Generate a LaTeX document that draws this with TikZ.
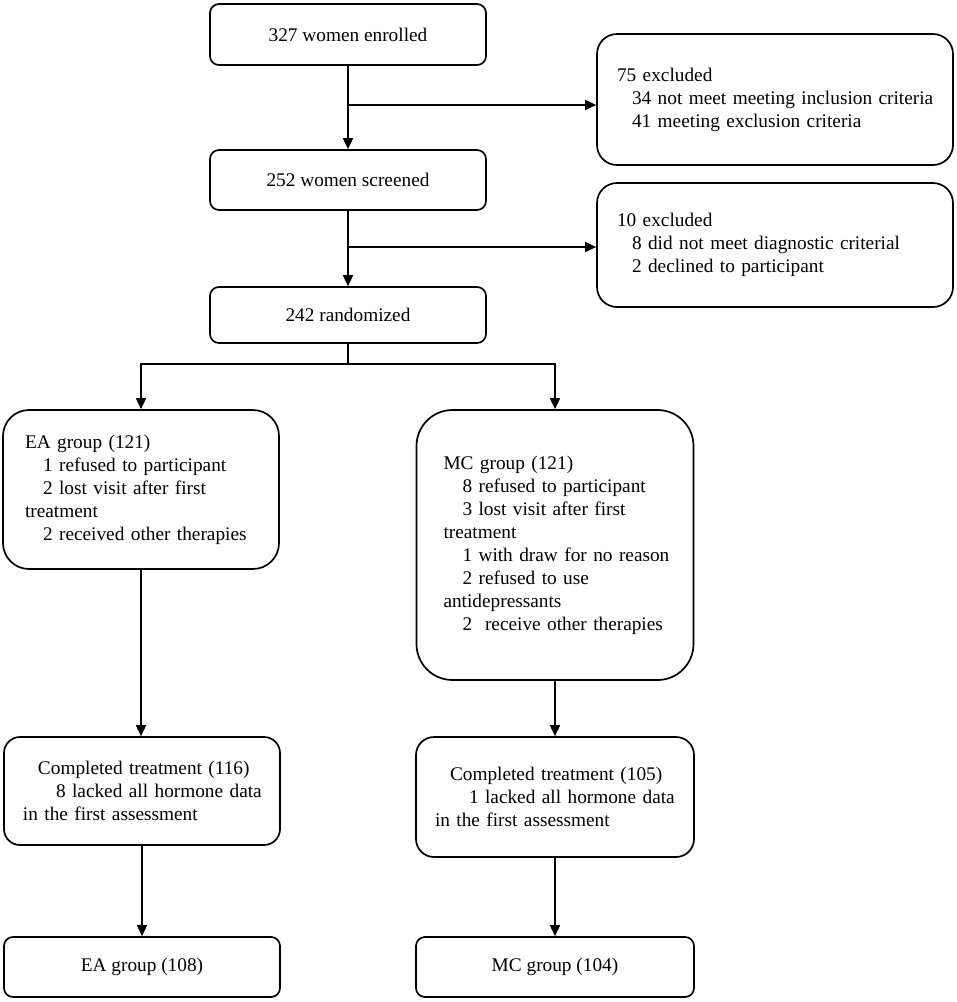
\documentclass[tikz,border=0pt]{standalone}
\usepackage{fontspec}
\setmainfont{Liberation Serif}
\usetikzlibrary{arrows.meta}
\begin{document}
\begin{tikzpicture}[x=1pt,y=-1pt,
  box/.style={draw, line width=1.7pt, inner sep=0pt, fill=white,
    font=\fontsize{19.3}{23}\selectfont},
  lbox/.style={box, align=left},
  arr/.style={line width=1.7pt, -{Triangle[length=11pt,width=10pt]}},
  ln/.style={line width=1.7pt}]
\useasboundingbox[fill=white] (0,0) rectangle (957,1002);
\newcommand{\myline}[2][0]{\mbox{\hspace*{#1pt}#2}}

\node[box, minimum width=276pt, minimum height=61pt, rounded corners=9pt] (enr) at (348,34.5) {327 women enrolled};
\node[box, minimum width=276pt, minimum height=60pt, rounded corners=9pt] (scr) at (348,180) {252 women screened};
\node[box, minimum width=276pt, minimum height=56pt, rounded corners=9pt] (rnd) at (348,315) {242 randomized};

\node[lbox, text width=316pt, inner xsep=20pt, minimum height=131pt, rounded corners=20pt] (ex1) at (775,99.5)
  {\myline{75 excluded}\\ \myline[15]{34 not meet meeting inclusion criteria}\\ \myline[15]{41 meeting exclusion criteria}};
\node[lbox, text width=316pt, inner xsep=20pt, minimum height=124pt, rounded corners=20pt] (ex2) at (775,245)
  {\myline{10 excluded}\\ \myline[15]{8 did not meet diagnostic criterial}\\ \myline[15]{2 declined to participant}};

\node[lbox, text width=232pt, inner xsep=22pt, minimum height=159pt, rounded corners=26pt] (ea) at (141,489.5)
  {\myline{EA group (121)}\\ \myline[18]{1 refused to participant}\\ \myline[18]{2 lost visit after first}\\ \myline{treatment}\\ \myline[18]{2 received other therapies}};
\node[lbox, text width=223pt, inner xsep=27pt, minimum height=270pt, rounded corners=36pt] (mc) at (555,545)
  {\myline{MC group (121)}\\ \myline[19]{8 refused to participant}\\ \myline[19]{3 lost visit after first}\\ \myline{treatment}\\ \myline[19]{1 with draw for no reason}\\ \myline[19]{2 refused to use}\\ \myline{antidepressants}\\ \myline[19]{2\ \ receive other therapies}};

\node[lbox, text width=238pt, inner xsep=19pt, minimum height=108pt, rounded corners=16pt] (eac) at (142,791)
  {\myline[15]{Completed treatment (116)}\\ \myline[33]{8 lacked all hormone data}\\ \myline{in the first assessment}};
\node[lbox, text width=240pt, inner xsep=19pt, minimum height=120pt, rounded corners=18pt] (mcc) at (555,797)
  {\myline[15]{Completed treatment (105)}\\ \myline[34]{1 lacked all hormone data}\\ \myline{in the first assessment}};

\node[box, minimum width=276pt, minimum height=60pt, rounded corners=9pt] (eaf) at (142,967) {EA group (108)};
\node[box, minimum width=278pt, minimum height=60pt, rounded corners=9pt] (mcf) at (555,967) {MC group (104)};

\coordinate (j1) at (348,105);
\coordinate (j2) at (348,247);
\coordinate (b) at (348,364);

\draw[arr] (enr.south) -- (scr.north);
\draw[arr] (j1) -- (j1 -| ex1.west);
\draw[arr] (scr.south) -- (rnd.north);
\draw[arr] (j2) -- (j2 -| ex2.west);
\draw[ln] (rnd.south) -- (b);
\draw[arr] (b) -| (ea.north);
\draw[arr] (b) -| (mc.north);
\draw[arr] (ea.south) -- (ea.south |- eac.north);
\draw[arr] (mc.south) -- (mc.south |- mcc.north);
\draw[arr] (eac.south) -- (eac.south |- eaf.north);
\draw[arr] (mcc.south) -- (mcc.south |- mcf.north);
\end{tikzpicture}
\end{document}
